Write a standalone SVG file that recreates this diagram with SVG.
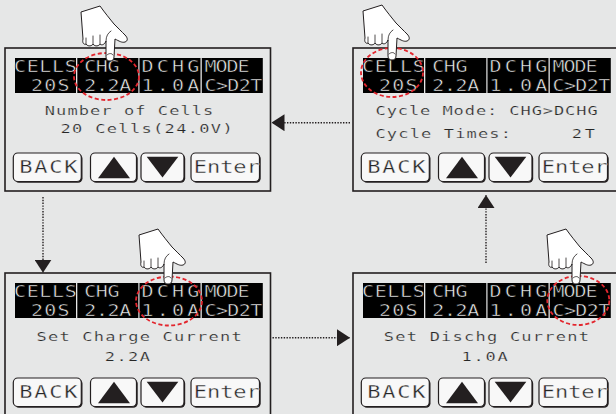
<svg xmlns="http://www.w3.org/2000/svg" width="616" height="414" viewBox="0 0 616 414">
<style>
  .frame{fill:#e6e7e7;stroke:#231f20;stroke-width:1.6}
  .cell{fill:#000}
  /* thin LCD strokes: a stroke in the surrounding colour trims each glyph */
  .hd{font-family:"DejaVu Sans Mono",monospace;font-size:20px;fill:#ececec;stroke:#000;stroke-width:0.6}
  .lcd{font-family:"DejaVu Sans Mono",monospace;font-size:17px;fill:#262626;stroke:#e6e7e7;stroke-width:0.3}
  .bt{font-family:"DejaVu Sans Mono",monospace;font-size:22px;fill:#262626;stroke:#f8f8f8;stroke-width:0.4}
  .btn{fill:#f8f8f8;stroke:#231f20;stroke-width:1.2}
  .btn-sh{fill:#231f20}
  .tri{fill:#231f20}
  .ring{fill:none;stroke:#e3262e;stroke-width:1.8;stroke-dasharray:4 2.5}
  .hand{fill:#fff;stroke:#231f20;stroke-width:1;stroke-linejoin:round}
  .crease{fill:none;stroke:#231f20;stroke-width:0.8;stroke-linecap:round}
  .link{fill:none;stroke:#231f20;stroke-width:1.4;stroke-dasharray:1.4 1.4}
</style>
<defs>
  <marker id="arrow" markerUnits="userSpaceOnUse" viewBox="0 0 13 17" refX="13" refY="8.5" markerWidth="13" markerHeight="17" orient="auto">
    <path d="M0,0 L13,8.5 L0,17 Z" fill="#231f20"/>
  </marker>
  <!-- pointing hand, fingertip at the origin -->
  <g id="hand">
    <path class="hand" d="M-29,-49 L-10,-55 C-5,-48 0,-42 4,-37 C8,-33 12,-29 15,-26 C18,-23 18,-20 15,-19 C12,-18 9,-20 5,-22 L4,-4 C4,-1 2,0 0,0 C-2,0 -4,-1 -4,-4 L-4,-20 C-5,-17 -8,-15 -10,-17 C-11,-15 -15,-14 -17,-17 C-18,-15 -22,-14 -24,-17 C-26,-16 -28,-18 -27,-22 Z"/>
    <path class="crease" d="M-10,-17 L-10,-26 M-17,-17 L-17,-25 M-24,-17 L-24,-23 M-4,-20 C-4,-25 -2,-28 1,-30 M-3,-6 C-1,-8 2,-8 3,-6"/>
  </g>
  <!-- charger LCD panel: status bar and key row -->
  <g id="lcd-panel">
    <rect class="frame" x="5" y="48" width="265.5" height="143"/>
    <rect class="cell" x="15" y="58" width="61" height="35"/>
    <rect class="cell" x="77.3" y="58" width="61" height="35"/>
    <rect class="cell" x="139.5" y="58" width="61" height="35"/>
    <rect class="cell" x="201.8" y="58" width="61" height="35"/>
    <!-- status bar text, squeezed vertically to a wide LCD cell shape -->
    <g transform="scale(1,0.75)">
      <text class="hd" x="14.1" y="96" letter-spacing="0.61">CELLS</text>
      <text class="hd" x="30.9" y="121.33" letter-spacing="1.26">20S</text>
      <text class="hd" x="84.3" y="96" letter-spacing="-0.44">CHG</text>
      <text class="hd" x="84.3" y="121.33" letter-spacing="-0.41">2.2A</text>
      <text class="hd" x="141.6" y="96" letter-spacing="3.16">DCHG</text>
      <text class="hd" x="141.6" y="121.33" letter-spacing="3.16">1.0A</text>
      <text class="hd" x="204.6" y="96" letter-spacing="-1.07">MODE</text>
      <text class="hd" x="204.6" y="121.33" letter-spacing="-0.64">C&gt;D2T</text>
    </g>
    <rect class="btn-sh" x="14.5" y="154.2" width="68" height="28.5" rx="4.5"/>
    <rect class="btn" x="13.3" y="153" width="68" height="28.5" rx="4.5"/>
    <rect class="btn-sh" x="91.7" y="154.2" width="46" height="28.5" rx="4.5"/>
    <rect class="btn" x="90.5" y="153" width="46" height="28.5" rx="4.5"/>
    <rect class="btn-sh" x="142.2" y="154.2" width="43" height="28.5" rx="4.5"/>
    <rect class="btn" x="141" y="153" width="43" height="28.5" rx="4.5"/>
    <rect class="btn-sh" x="192.2" y="154.2" width="68.5" height="28.5" rx="4.5"/>
    <rect class="btn" x="191" y="153" width="68.5" height="28.5" rx="4.5"/>
    <path class="tri" d="M98,178.3 L114,156.7 L130,178.3 Z"/>
    <path class="tri" d="M146.7,156.7 L178.3,156.7 L162.5,177.5 Z"/>
    <g transform="scale(1,0.8)">
      <text class="bt" x="19.2" y="216.25" letter-spacing="1.76">BACK</text>
      <text class="bt" x="193.8" y="216.25" letter-spacing="-0.04">Enter</text>
    </g>
  </g>
</defs>

<rect width="616" height="414" fill="#e6e7e7"/>

<g id="screen-cells">
  <use href="#lcd-panel"/>
  <g transform="scale(1,0.77)">
    <text class="lcd" x="44.8" y="150" letter-spacing="1.08">Number of Cells</text>
    <text class="lcd" x="60.5" y="173.12" letter-spacing="1.34">20 Cells(24.0V)</text>
  </g>
  <ellipse class="ring" cx="106.5" cy="76.5" rx="32.5" ry="23.5"/>
  <use href="#hand" x="110" y="61"/>
</g>

<g id="screen-cycle" transform="translate(348,0)">
  <use href="#lcd-panel"/>
  <g transform="scale(1,0.77)">
    <text class="lcd" x="27.5" y="150" letter-spacing="0.93">Cycle Mode: CHG&gt;DCHG</text>
    <text class="lcd" x="27.5" y="179.22" letter-spacing="1.16">Cycle Times:</text>
    <text class="lcd" x="223.8" y="179.22" letter-spacing="2.77">2T</text>
  </g>
  <ellipse class="ring" cx="44" cy="72.5" rx="31" ry="24.5"/>
  <use href="#hand" x="44" y="60"/>
</g>

<g id="screen-charge" transform="translate(0,225)">
  <use href="#lcd-panel"/>
  <g transform="scale(1,0.77)">
    <text class="lcd" x="36.5" y="150.26" letter-spacing="1.24">Set Charge Current</text>
    <text class="lcd" x="104.8" y="176.23" letter-spacing="1.44">2.2A</text>
  </g>
  <ellipse class="ring" cx="169" cy="76" rx="33" ry="24.5"/>
  <use href="#hand" x="168" y="59"/>
</g>

<g id="screen-dischg" transform="translate(348,225)">
  <use href="#lcd-panel"/>
  <g transform="scale(1,0.77)">
    <text class="lcd" x="35.8" y="150.26" letter-spacing="1.24">Set Dischg Current</text>
    <text class="lcd" x="113.5" y="176.23" letter-spacing="1.77">1.0A</text>
  </g>
  <ellipse class="ring" cx="230.3" cy="75.5" rx="31" ry="24.5"/>
  <use href="#hand" x="228" y="59"/>
</g>

<g id="connectors">
  <path class="link" d="M350,122.7 L271.5,122.7" marker-end="url(#arrow)"/>
  <path class="link" d="M43,197 L43,272.7" marker-end="url(#arrow)"/>
  <path class="link" d="M272.5,337.7 L350,337.7" marker-end="url(#arrow)"/>
  <path class="link" d="M486,263 L486,195" marker-end="url(#arrow)"/>
</g>
</svg>
